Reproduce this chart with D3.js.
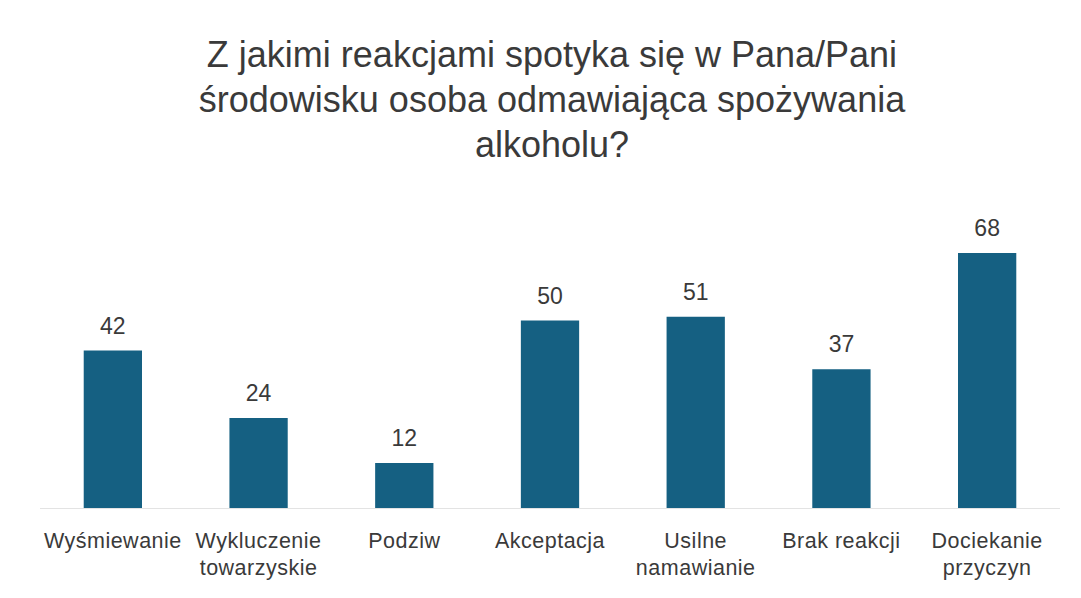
<!DOCTYPE html>
<html>
<head>
<meta charset="utf-8">
<script src="https://cdn.jsdelivr.net/npm/d3@7"></script>
<style>
  body { margin: 0; background: #fff; }
  text { font-family: "Liberation Sans", Arial, sans-serif; }
</style>
</head>
<body>
<div class="chart"></div>
<script>
const WIDTH = 1081, HEIGHT = 598;

const titleLines = ["Z jakimi reakcjami spotyka się w Pana/Pani", "środowisku osoba odmawiająca spożywania", "alkoholu?"];
const categories = ["Wyśmiewanie", "Wykluczenie\ntowarzyskie", "Podziw", "Akceptacja", "Usilne\nnamawianie", "Brak reakcji", "Dociekanie\nprzyczyn"];
const values = [42, 24, 12, 50, 51, 37, 68];

const BASE = 508;

var svg = d3.select(".chart")
  .append("svg")
  .attr("width", WIDTH)
  .attr("height", HEIGHT);

const x = d3.scaleBand()
  .domain(categories)
  .range([40, 1060])
  .paddingInner(0.6)
  .paddingOuter(0.3);

const y = d3.scaleLinear()
  .domain([0, 68])
  .range([BASE, 253]);

// title
svg.append("text")
  .attr("text-anchor", "middle")
  .attr("font-size", 36)
  .attr("fill", "#3a3a3a")
  .selectAll("tspan")
  .data(titleLines)
  .join("tspan")
  .attr("x", 552)
  .attr("y", (d, i) => 67 + i * 45)
  .text(d => d);

// baseline
svg.append("line")
  .attr("x1", 40).attr("x2", 1060)
  .attr("y1", BASE + 0.5).attr("y2", BASE + 0.5)
  .attr("stroke", "#e3e3e3")
  .attr("stroke-width", 1);

svg.selectAll("rect.bar")
  .data(values)
  .join("rect")
  .attr("class", "bar")
  .attr("x", (d, i) => x(categories[i]))
  .attr("width", x.bandwidth())
  .attr("y", d => y(d))
  .attr("height", d => BASE - y(d))
  .attr("fill", "#156082");

svg.selectAll("text.val")
  .data(values)
  .join("text")
  .attr("class", "val")
  .attr("x", (d, i) => x(categories[i]) + x.bandwidth() / 2)
  .attr("y", d => y(d) - 17)
  .attr("text-anchor", "middle")
  .attr("font-size", 23)
  .attr("fill", "#3a3a3a")
  .text(d => d);

const cat = svg.selectAll("text.cat")
  .data(categories)
  .join("text")
  .attr("class", "cat")
  .attr("text-anchor", "middle")
  .attr("font-size", 21.5)
  .attr("letter-spacing", 0.5)
  .attr("fill", "#3a3a3a");

cat.selectAll("tspan")
  .data(d => d.split("\n").map(s => ({ s: s, c: d })))
  .join("tspan")
  .attr("x", d => x(d.c) + x.bandwidth() / 2)
  .attr("y", (d, i) => 548 + i * 27)
  .text(d => d.s);
</script>
</body>
</html>
